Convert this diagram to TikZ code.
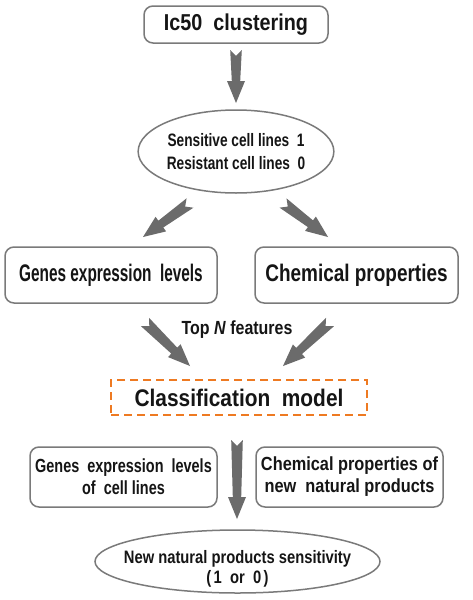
\documentclass[tikz,border=0pt]{standalone}
\usepackage{fontspec}
\setmainfont{Liberation Sans}
\usepackage{graphicx}
\usetikzlibrary{shapes.geometric,calc}
\definecolor{arrowgray}{HTML}{6B6B6B}
\definecolor{boxgray}{HTML}{7A7A7A}
\definecolor{dashorange}{HTML}{EE7A22}
\definecolor{txt}{HTML}{151515}
\tikzset{
  rbox/.style={draw=boxgray, line width=1.5pt, rounded corners=9pt, fill=white, align=center, text=txt, inner sep=0pt},
  ellbox/.style={draw=boxgray, line width=1.5pt, ellipse, fill=white, align=center, text=txt, inner sep=0pt},
  dbox/.style={draw=dashorange, line width=2.5pt, dash pattern=on 8pt off 5pt, align=center, text=txt, inner sep=0pt},
  plain/.style={text=txt, inner sep=0pt, align=center},
  fs/.style 2 args={font=\bfseries\fontsize{#1}{#2}\selectfont}
}
\newcommand\fatarrow[2]{%
  \coordinate (hb) at ($(#2)!22pt!(#1)$);
  \fill[arrowgray] ($(#1)!5.8pt!90:(#2)$) -- ($(hb)!4.2pt!90:(#2)$) -- ($(hb)!9pt!90:(#2)$) -- (#2)
     -- ($(hb)!9pt!-90:(#2)$) -- ($(hb)!4.2pt!-90:(#2)$) -- ($(#1)!5.8pt!-90:(#2)$) -- ($(#1)!6pt!(#2)$) -- cycle;}
\begin{document}
\begin{tikzpicture}[x=1pt,y=-1pt]
\useasboundingbox[fill=white] (0,0) rectangle (473,600);
% nodes
\node[rbox, fs={23}{25}, minimum width=184pt, minimum height=37pt] (ic) at (236,24.5)
  {\scalebox{0.86}[1]{Ic50\ \ clustering}};
\node[ellbox, fs={18}{23}, minimum width=178pt, minimum height=83pt] (cls1) at (236,151.5)
  {\scalebox{0.76}[1]{Sensitive cell lines\ \ 1}\\
   \scalebox{0.76}[1]{Resistant cell lines\ \ 0}};
\node[rbox, fs={24}{26}, minimum width=212pt, minimum height=56pt] (gel) at (111,275)
  {\scalebox{0.64}[1]{Genes expression\ \ levels}};
\node[rbox, fs={24}{26}, minimum width=203pt, minimum height=56pt] (chem) at (356.5,275)
  {\scalebox{0.79}[1]{Chemical properties}};
\node[plain, fs={19}{21}] (topn) at (237,330)
  {\scalebox{0.84}[1]{Top \textit{N} features}};
\node[dbox, fs={24}{26}, minimum width=256pt, minimum height=35pt] (model) at (239,397.5)
  {\scalebox{0.87}[1]{Classification\ \ model}};
\node[rbox, fs={19}{22}, minimum width=187pt, minimum height=60pt] (gel2) at (123.5,477)
  {\scalebox{0.76}[1]{Genes\ \ expression\ \ levels}\\
   \scalebox{0.76}[1]{of\ \ cell lines}};
\node[rbox, fs={19}{22}, minimum width=187pt, minimum height=60pt] (chem2) at (349.5,477)
  {\scalebox{0.86}[1]{Chemical properties of}\\
   \scalebox{0.86}[1]{new\ \ natural products}};
\node[ellbox, minimum width=285pt, minimum height=63pt] (res) at (237.5,561.5) {};
\node[plain, fs={18}{20}] (restext) at (237.5,569)
  {\scalebox{0.82}[1]{New natural products sensitivity}\\
   \scalebox{0.82}[1]{(\,1\ \ or\ \ 0\,)}};
% arrow end points
\coordinate (a1s) at (236,50);   \coordinate (a1e) at (236,103);
\coordinate (a2s) at (190,203);  \coordinate (a2e) at (143,237);
\coordinate (a3s) at (283,203);  \coordinate (a3e) at (328,237);
\coordinate (a4s) at (145,322);  \coordinate (a4e) at (190,366);
\coordinate (a5s) at (330,322);  \coordinate (a5e) at (283,366);
\coordinate (a6s) at (237,440);  \coordinate (a6e) at (237,519);
\fatarrow{a1s}{a1e}
\fatarrow{a2s}{a2e}
\fatarrow{a3s}{a3e}
\fatarrow{a4s}{a4e}
\fatarrow{a5s}{a5e}
\fatarrow{a6s}{a6e}
\end{tikzpicture}
\end{document}
